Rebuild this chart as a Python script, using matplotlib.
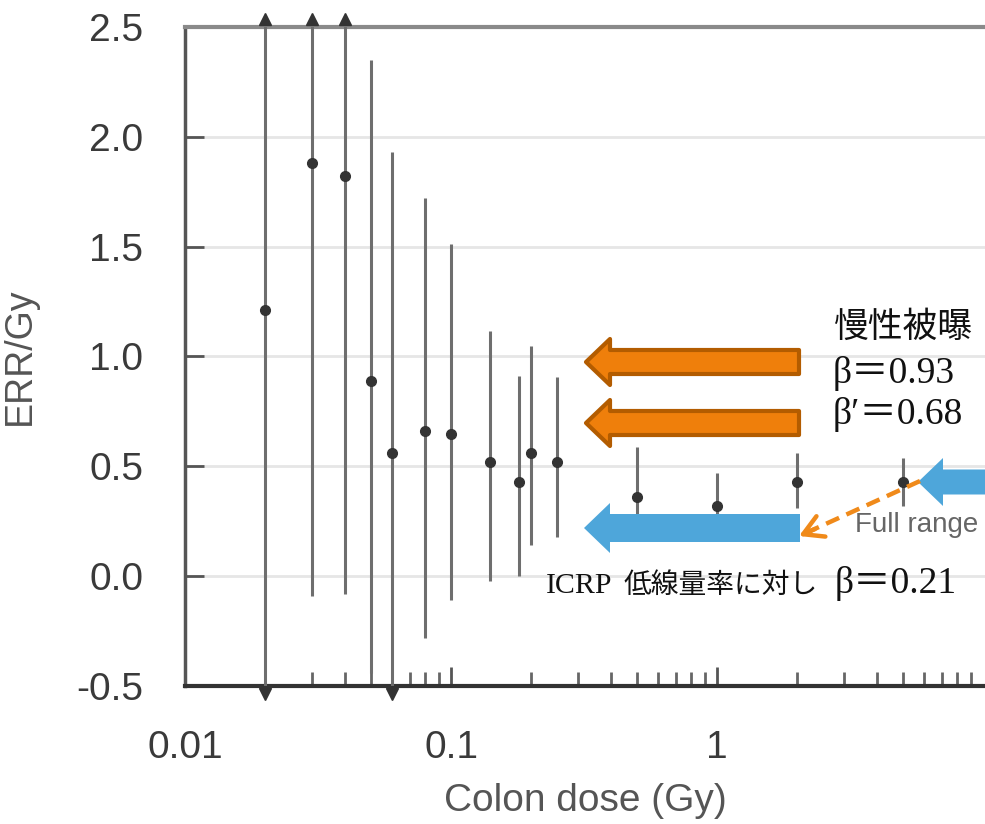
import numpy as np
import matplotlib
matplotlib.use("Agg")
import matplotlib.pyplot as plt
from matplotlib.patches import Polygon

plt.rcParams['font.family'] = ['Liberation Sans', 'DejaVu Sans']

# --- data ---
dose = [0.02, 0.03, 0.04, 0.05, 0.06, 0.08, 0.10, 0.14, 0.18, 0.20, 0.25, 0.5, 1.0, 2.0, 5.0]
err_gy = [1.21, 1.88, 1.82, 0.89, 0.56, 0.66, 0.645, 0.52, 0.43, 0.56, 0.52, 0.36, 0.32, 0.43, 0.43]
ci_low = [-0.6, -0.09, -0.08, -0.44, -0.6, -0.28, -0.11, -0.02, 0.0, 0.14, 0.18, 0.2, 0.2, 0.31, 0.32]
ci_high = [2.6, 2.6, 2.6, 2.35, 1.93, 1.72, 1.51, 1.115, 0.91, 1.05, 0.905, 0.59, 0.47, 0.56, 0.54]
beyond_top = [True, True, True] + [False] * 12
beyond_bottom = [True, False, False, False, True] + [False] * 10

x_ticks = [0.01, 0.1, 1]
x_ticklabels = ['0.01', '0.1', '1']
y_ticks = [-0.5, 0.0, 0.5, 1.0, 1.5, 2.0, 2.5]

W, H = 985, 824
fig = plt.figure(figsize=(W / 100, H / 100), dpi=100)
ax = fig.add_axes([185 / W, 1 - 686 / H, 800 / W, 659 / H])

ax.set_xscale('log')
ax.set_xlim(0.01, 10 ** (-2 + 800 / 266))
ax.set_ylim(-0.5, 2.5)

dose = np.array(dose)
ax.vlines(dose, ci_low, ci_high, color='#6e6e6e', lw=2.2, zorder=3)
ax.plot(dose, err_gy, 'o', color='#333333', ms=7, zorder=4)

up = dose[np.array(beyond_top)]
dn = dose[np.array(beyond_bottom)]
ax.plot(up, np.full(len(up), 2.535), '^', color='#333333', ms=8, clip_on=False, zorder=5)
ax.plot(dn, np.full(len(dn), -0.535), 'v', color='#333333', ms=8, clip_on=False, zorder=5)

ax.set_yticks(y_ticks)
ax.set_yticklabels([f'{v:.1f}' for v in y_ticks])
ax.set_xticks(x_ticks)
ax.set_xticklabels(x_ticklabels)
ax.grid(axis='y', color='#e6e6e6', lw=2)
ax.grid(axis='x', visible=False)
ax.set_axisbelow(True)

ax.tick_params(axis='both', which='major', direction='in', labelsize=28,
               labelcolor='#3a3a3a', color='#555555')
ax.tick_params(axis='y', length=14, width=2, pad=30)
ax.tick_params(axis='x', which='major', length=14, width=2, pad=32)
ax.tick_params(axis='x', which='minor', direction='in', length=10, width=2, color='#666666')

ax.spines['top'].set_color('#8a8a8a')
ax.spines['top'].set_linewidth(3)
ax.spines['left'].set_color('#555555')
ax.spines['left'].set_linewidth(2.5)
ax.spines['bottom'].set_color('#333333')
ax.spines['bottom'].set_linewidth(3)
ax.spines['right'].set_visible(False)

ax.set_xlabel('Colon dose (Gy)', fontsize=28, color='#555555', labelpad=12)
ax.set_ylabel('ERR/Gy', fontsize=27, color='#555555', labelpad=28)

# --- overlay in pixel coordinates for the callout arrows and text ---
ov = fig.add_axes([0, 0, 1, 1], zorder=10)
ov.set_xlim(0, W)
ov.set_ylim(H, 0)
ov.axis('off')


def block_arrow(x_tip, x_end, yc, body, head, head_len, fc, ec=None, lw=0):
    pts = [(x_tip, yc), (x_tip + head_len, yc - head), (x_tip + head_len, yc - body),
           (x_end, yc - body), (x_end, yc + body), (x_tip + head_len, yc + body),
           (x_tip + head_len, yc + head)]
    ov.add_patch(Polygon(pts, closed=True, fc=fc, ec=ec if ec else fc, lw=lw,
                         joinstyle='round', clip_on=False))


block_arrow(586, 799, 362, 12, 23, 24, '#ef7f0b', '#b35c00', 3)
block_arrow(586, 799, 423, 12, 23, 24, '#ef7f0b', '#b35c00', 3)
block_arrow(584, 800, 528, 14, 25, 26, '#4ea6da')
block_arrow(918, 1000, 482, 12.5, 24, 25, '#4ea6da')

ov.text(855, 532, 'Full range', fontsize=20, color='#666666', va='baseline', ha='left')

# dashed pointer from the full-range arrow to the ICRP arrow
ov.plot([920, 808], [481, 532], color='#f08a1a', lw=3.2, ls=(0, (3.2, 1.8)),
        solid_capstyle='butt', zorder=12)
ov.annotate('', xy=(799, 536), xytext=(815, 529),
            arrowprops=dict(arrowstyle='->,head_length=1.4,head_width=0.8',
                            color='#f08a1a', lw=3.2, shrinkA=0, shrinkB=0), zorder=12)

jp = ['Noto Sans CJK JP', 'DejaVu Sans']
serif = ['Liberation Serif', 'DejaVu Serif', 'Noto Sans CJK JP']
ov.text(833, 337, '慢性被曝', fontsize=25, family=jp, color='#111111', va='baseline')
ov.text(833, 383, 'β＝0.93', fontsize=27, family=serif, color='#111111', va='baseline')
ov.text(833, 424, 'β′＝0.68', fontsize=27, family=serif, color='#111111', va='baseline')
ov.text(546, 593, 'ICRP', fontsize=21.5, family=serif, color='#111111', va='baseline')
ov.text(624, 593, '低線量率に対し', fontsize=20, family=jp, color='#111111', va='baseline')
ov.text(835, 593, 'β＝0.21', fontsize=27, family=serif, color='#111111', va='baseline')

fig.savefig('out.png', dpi=100)
